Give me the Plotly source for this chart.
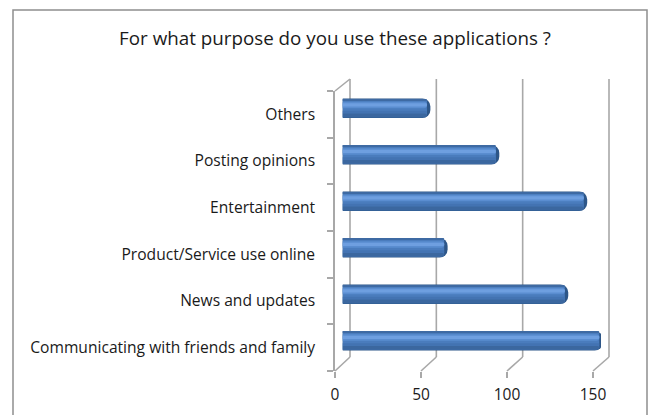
import plotly.graph_objects as go

# Survey answers, listed bottom to top as they appear on the chart
purposes = [
    "Communicating with friends and family",
    "News and updates",
    "Product/Service use online",
    "Entertainment",
    "Posting opinions",
    "Others",
]
counts = [151, 131, 61, 142, 91, 51]
x_ticks = [0, 50, 100, 150]
x_max = 150
title_text = "For what purpose do you use these applications ?"

W, H = 650, 415
FONT = "Open Sans"
GRID = "#a8a8a8"
TEXT = "#1a1a1a"
CAP_DEPTH = 2.0  # depth of the dark end cap, in value units


def fx(p):
    return p / W


def fy(p):
    return (H - p) / H


# pseudo-3D frame: front plane, back wall and mid plane (where the bars sit)
front = dict(x0=335, x1=593, y0=91, y1=371)
back = dict(x0=350, x1=609, y0=79, y1=357)
mid = dict(x0=342.5, x1=601, y0=85, y1=364)

fig = go.Figure()

# cylinder look: the dark rim/cap runs to the value, lighter bands sit on top of it
body_len = [c - CAP_DEPTH for c in counts]
layers = [
    # (lengths, offset, width, colour, corner radius)
    (counts, -0.21, 0.42, "#2d5688", 8),
    (body_len, -0.195, 0.39, "#4a7cbd", 7),
    (body_len, -0.195, 0.09, "#3b679f", 4),
    (body_len, -0.105, 0.05, "#4373b2", 3),
    (body_len, 0.00, 0.14, "#5a8dd0", 5),
    (body_len, 0.04, 0.07, "#6e9fe0", 3),
    (body_len, 0.17, 0.03, "#3e6aa3", 2),
]
for lens, off, wid, col, rad in layers:
    fig.add_trace(go.Bar(
        x=lens, y=purposes, orientation="h",
        offset=off, width=wid,
        marker=dict(color=col, line=dict(width=0), cornerradius=rad),
        hoverinfo="skip",
        showlegend=False, xaxis="x", yaxis="y",
    ))
fig.data[0].update(hoverinfo="x+y")

# empty trace so the front axes get drawn
fig.add_trace(go.Scatter(x=[None], y=[purposes[0]], xaxis="x2", yaxis="y3",
                         showlegend=False, hoverinfo="skip"))


def line(x0, y0, x1, y1):
    return dict(type="line", xref="paper", yref="paper",
                x0=fx(x0), y0=fy(y0), x1=fx(x1), y1=fy(y1),
                line=dict(color=GRID, width=1.6), layer="below")


shapes = []
for v in x_ticks:
    xf = front["x0"] + v / x_max * (front["x1"] - front["x0"])
    xb = back["x0"] + v / x_max * (back["x1"] - back["x0"])
    # back wall gridline
    shapes.append(line(xb, back["y1"], xb, back["y0"]))
    # floor diagonal from the front tick to the wall
    shapes.append(line(xf, front["y1"], xb, back["y1"]))
# top edge of the left wall
shapes.append(line(front["x0"], front["y0"], back["x0"], back["y0"]))
# outer chart border
shapes.append(dict(type="rect", xref="paper", yref="paper",
                   x0=fx(13), x1=fx(647), y0=-0.2, y1=fy(10),
                   line=dict(color="#8f8f8f", width=1.5), fillcolor="rgba(0,0,0,0)"))

fig.update_layout(
    template="none",
    width=W, height=H,
    margin=dict(l=0, r=0, t=0, b=0, autoexpand=False),
    paper_bgcolor="white", plot_bgcolor="rgba(0,0,0,0)",
    barmode="overlay",
    font=dict(family=FONT, color=TEXT),
    title=dict(text=title_text, x=fx(335), xanchor="center", y=fy(38.5), yanchor="middle",
               font=dict(family=FONT, size=18.8, color=TEXT)),
    shapes=shapes,
    # bars (mid plane)
    xaxis=dict(domain=[fx(mid["x0"]), fx(mid["x1"])], range=[0, x_max],
               visible=False, fixedrange=True),
    yaxis=dict(domain=[fy(mid["y1"]), fy(mid["y0"])], type="category",
               categoryorder="array", categoryarray=purposes,
               range=[-0.5, len(purposes) - 0.5], visible=False, fixedrange=True),
    # front plane: value ticks and category labels
    xaxis2=dict(domain=[fx(front["x0"]), fx(front["x1"])], range=[0, x_max],
                anchor="y3", tickvals=x_ticks, ticks="outside", ticklen=6,
                tickcolor=GRID, tickwidth=1.6, showgrid=False, zeroline=False,
                showline=False, tickfont=dict(family=FONT, size=15.5, color=TEXT),
                ticklabelstandoff=3, automargin=False, fixedrange=True),
    yaxis3=dict(domain=[fy(front["y1"]), fy(front["y0"])], anchor="x2",
                type="category", categoryorder="array", categoryarray=purposes,
                range=[-0.5, len(purposes) - 0.5], tickson="boundaries",
                ticks="outside", ticklen=6, tickcolor=GRID, tickwidth=1.6,
                showline=True, linecolor=GRID, linewidth=1.6, showgrid=False,
                zeroline=False, tickfont=dict(family=FONT, size=15.6, color=TEXT),
                ticklabelstandoff=15, automargin=False, fixedrange=True),
)

fig.write_html("out.html")
